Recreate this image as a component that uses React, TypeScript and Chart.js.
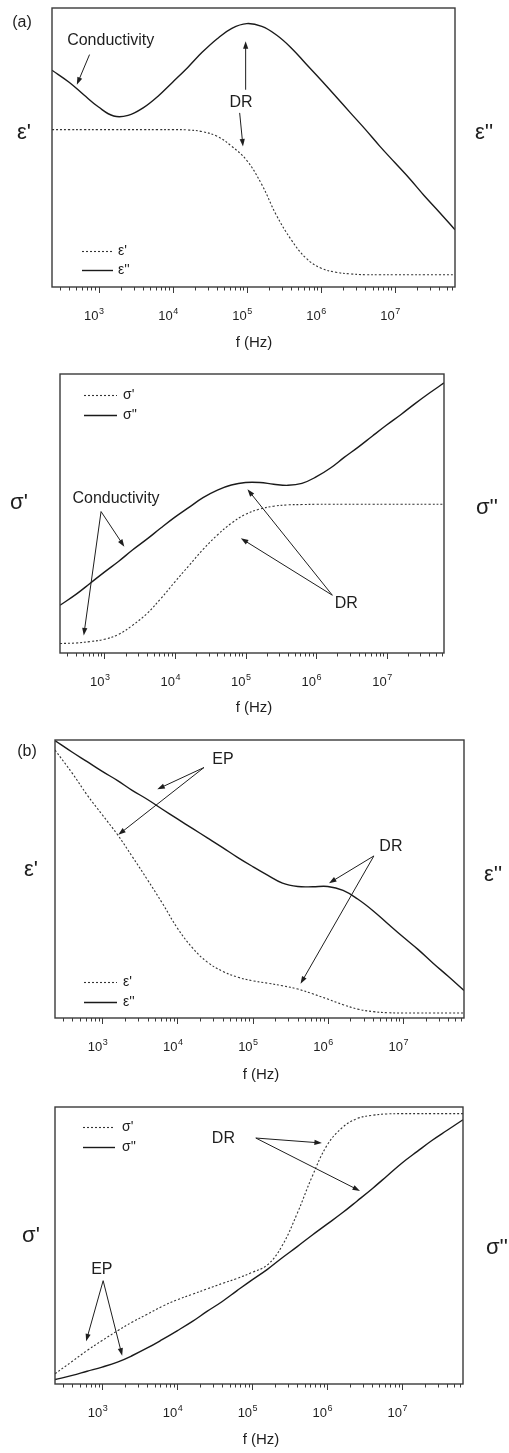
import React, { useEffect, useRef } from 'react';
import { Chart, registerables } from 'chart.js';

Chart.register(...registerables);

const FONT = '"Liberation Sans", Arial, Helvetica, sans-serif';

// Frequency grid (Hz) shared by all four panels
const freq = [
  235, 400, 630, 1e3, 1.6e3, 2.5e3, 4e3, 6.3e3, 1e4, 1.6e4, 2.5e4, 4e4, 6.3e4, 1e5,
  1.6e5, 2.5e5, 4e5, 6.3e5, 1e6, 1.6e6, 2.5e6, 4e6, 6.3e6, 1e7, 1.6e7, 2.5e7, 4e7, 6.5e7,
];
const F_MIN = 235;
const F_MAX = 6.5e7;

// Decade tick labels: base and exponent
const decadeValues = [1e3, 1e4, 1e5, 1e6, 1e7];
const decadeExponents = ['3', '4', '5', '6', '7'];
const minorMultipliers = [2, 3, 4, 5, 6, 7, 8, 9];
const minorExponents = [2, 3, 4, 5, 6, 7];

// (a) permittivity, relative units (0-100 of the plot height)
const aEpsReal = [
  56.4, 56.4, 56.4, 56.4, 56.4, 56.4, 56.4, 56.4, 56.4, 56.3, 55.7, 54.0, 50.4, 45.4,
  36.7, 25.9, 16.9, 10.4, 6.8, 5.3, 4.7, 4.4, 4.4, 4.4, 4.4, 4.4, 4.4, 4.4,
];
const aEpsImag = [
  77.7, 73.4, 68.9, 64.5, 61.3, 61.5, 64.2, 68.3, 73.4, 78.7, 84.1, 89.0, 92.7, 94.4,
  93.4, 90.4, 85.7, 80.0, 74.3, 68.3, 62.5, 56.5, 50.4, 44.6, 38.7, 32.7, 26.8, 20.5,
];

// (a) conductivity
const aSigReal = [
  3.4, 3.6, 4.1, 4.9, 6.7, 9.9, 14.1, 19.5, 25.5, 31.5, 37.1, 42.3, 46.5, 49.7,
  51.6, 52.6, 53.1, 53.2, 53.3, 53.3, 53.3, 53.3, 53.3, 53.3, 53.3, 53.3, 53.3, 53.3,
];
const aSigImag = [
  17.1, 21.1, 25.0, 29.0, 32.9, 36.9, 40.8, 44.8, 48.7, 52.3, 55.7, 58.4, 60.2, 61.1,
  61.1, 60.5, 60.1, 60.8, 63.1, 66.3, 70.1, 73.9, 77.8, 81.7, 85.5, 89.3, 93.1, 96.8,
];

// (b) permittivity
const bEpsReal = [
  96.4, 88.0, 80.2, 73.1, 65.9, 58.1, 49.7, 41.3, 32.3, 25.1, 20.1, 16.8, 14.7, 13.4,
  12.5, 11.6, 10.4, 8.7, 6.8, 4.8, 3.2, 2.3, 1.9, 1.8, 1.8, 1.8, 1.8, 1.8,
];
const bEpsImag = [
  99.8, 95.6, 92.2, 88.7, 85.4, 81.9, 78.6, 75.1, 71.6, 68.1, 64.8, 61.3, 57.8, 54.5,
  51.3, 48.5, 47.3, 47.2, 47.3, 45.9, 42.8, 38.6, 33.9, 29.2, 24.6, 19.8, 15.0, 9.9,
];

// (b) conductivity
const bSigReal = [
  3.7, 8.2, 12.1, 15.7, 19.2, 22.3, 25.2, 28.0, 30.4, 32.4, 34.3, 36.3, 38.1, 40.3,
  43.0, 49.8, 61.6, 74.8, 86.2, 92.6, 95.8, 97.0, 97.5, 97.6, 97.6, 97.6, 97.6, 97.6,
];
const bSigImag = [
  1.6, 3.1, 4.6, 6.1, 7.9, 10.2, 13.0, 16.0, 19.2, 22.6, 26.2, 29.8, 33.7, 37.6,
  41.4, 45.5, 49.6, 53.7, 57.7, 61.8, 66.0, 70.5, 75.1, 79.8, 84.0, 87.9, 91.6, 95.4,
];

type Note = { text: string; f: number; v: number };
type Arrow = { from: [number, number]; to: [number, number] };
type Pt = { x: number; y: number };

interface PanelSpec {
  top: number;
  height: number;
  pad: { left: number; right: number; top: number; bottom: number };
  realLabel: string;
  imagLabel: string;
  realValues: number[];
  imagValues: number[];
  leftTitle: Pt;
  rightTitle: Pt;
  axisTitle: Pt;
  tag?: { text: string; x: number; y: number };
  legend: { fromBottom: boolean; x0: number; x1: number; tx: number; y0: number; y1: number };
  notes: Note[];
  arrows: Arrow[];
}

const panels: PanelSpec[] = [
  {
    top: 0,
    height: 355,
    pad: { left: 52, right: 54, top: 8, bottom: 68 },
    realLabel: "ε'",
    imagLabel: "ε''",
    realValues: aEpsReal,
    imagValues: aEpsImag,
    leftTitle: { x: 24, y: 133 },
    rightTitle: { x: 484, y: 133 },
    axisTitle: { x: 254, y: 343 },
    tag: { text: '(a)', x: 22, y: 23 },
    legend: { fromBottom: true, x0: 30, x1: 61, tx: 66, y0: 36, y1: 17 },
    notes: [
      { text: 'Conductivity', f: 1459, v: 88.4 },
      { text: 'DR', f: 83800, v: 66.0 },
    ],
    arrows: [
      { from: [755, 83.3], to: [509, 72.5] },
      { from: [96800, 70.7], to: [96800, 88.1] },
      { from: [80400, 62.4], to: [89100, 50.4] },
    ],
  },
  {
    top: 355,
    height: 367,
    pad: { left: 60, right: 65, top: 19, bottom: 69 },
    realLabel: "σ'",
    imagLabel: "σ''",
    realValues: aSigReal,
    imagValues: aSigImag,
    leftTitle: { x: 19, y: 148 },
    rightTitle: { x: 487, y: 153 },
    axisTitle: { x: 254, y: 353 },
    legend: { fromBottom: false, x0: 24, x1: 57, tx: 63, y0: 21, y1: 41 },
    notes: [
      { text: 'Conductivity', f: 1462, v: 55.4 },
      { text: 'DR', f: 2687000, v: 17.7 },
    ],
    arrows: [
      { from: [897, 50.7], to: [1919, 38.1] },
      { from: [897, 50.7], to: [510, 6.3] },
      { from: [1702000, 20.7], to: [106600, 58.7] },
      { from: [1702000, 20.7], to: [85900, 41.1] },
    ],
  },
  {
    top: 722,
    height: 366,
    pad: { left: 55, right: 45, top: 18, bottom: 70 },
    realLabel: "ε'",
    imagLabel: "ε''",
    realValues: bEpsReal,
    imagValues: bEpsImag,
    leftTitle: { x: 31, y: 148 },
    rightTitle: { x: 493, y: 153 },
    axisTitle: { x: 261, y: 353 },
    tag: { text: '(b)', x: 27, y: 30 },
    legend: { fromBottom: true, x0: 29, x1: 62, tx: 68, y0: 36, y1: 16 },
    notes: [
      { text: 'EP', f: 40300, v: 92.8 },
      { text: 'DR', f: 6918000, v: 61.7 },
    ],
    arrows: [
      { from: [22550, 90.1], to: [5400, 82.3] },
      { from: [22550, 90.1], to: [1633, 65.9] },
      { from: [4111000, 58.3], to: [1038000, 48.5] },
      { from: [4111000, 58.3], to: [435000, 12.3] },
    ],
  },
  {
    top: 1088,
    height: 365,
    pad: { left: 55, right: 46, top: 19, bottom: 69 },
    realLabel: "σ'",
    imagLabel: "σ''",
    realValues: bSigReal,
    imagValues: bSigImag,
    leftTitle: { x: 31, y: 148 },
    rightTitle: { x: 497, y: 160 },
    axisTitle: { x: 261, y: 352 },
    legend: { fromBottom: false, x0: 28, x1: 60, tx: 67, y0: 20, y1: 40 },
    notes: [
      { text: 'DR', f: 41400, v: 88.6 },
      { text: 'EP', f: 991, v: 41.4 },
    ],
    arrows: [
      { from: [112000, 88.8], to: [853000, 87.0] },
      { from: [112000, 88.8], to: [2750000, 69.7] },
      { from: [1031, 37.3], to: [611, 15.4] },
      { from: [1031, 37.3], to: [1849, 10.2] },
    ],
  },
];

const INK = '#1e1e1e';
const FRAME = '#3a3a3a';

function drawArrow(ctx: CanvasRenderingContext2D, a: Pt, b: Pt) {
  const ang = Math.atan2(b.y - a.y, b.x - a.x);
  const len = 7.5;
  const half = 2.6;
  ctx.beginPath();
  ctx.moveTo(a.x, a.y);
  ctx.lineTo(b.x - Math.cos(ang) * (len - 1), b.y - Math.sin(ang) * (len - 1));
  ctx.stroke();
  ctx.beginPath();
  ctx.moveTo(b.x, b.y);
  ctx.lineTo(
    b.x - Math.cos(ang) * len - Math.sin(ang) * half,
    b.y - Math.sin(ang) * len + Math.cos(ang) * half
  );
  ctx.lineTo(
    b.x - Math.cos(ang) * len + Math.sin(ang) * half,
    b.y - Math.sin(ang) * len - Math.cos(ang) * half
  );
  ctx.closePath();
  ctx.fill();
}

function framePlugin(spec: PanelSpec) {
  return {
    id: 'panelFrame',
    afterDatasetsDraw(chart: Chart) {
      const ctx = chart.ctx;
      const { left, right, top, bottom } = chart.chartArea;
      const xs = chart.scales.x;
      const ys = chart.scales.y;
      const px = (f: number, v: number): Pt => ({
        x: xs.getPixelForValue(f),
        y: ys.getPixelForValue(v),
      });
      ctx.save();

      // plot frame
      ctx.strokeStyle = FRAME;
      ctx.lineWidth = 1.4;
      ctx.strokeRect(left, top, right - left, bottom - top);

      // outward tick marks on the frequency axis
      ctx.lineWidth = 1;
      ctx.strokeStyle = FRAME;
      minorExponents.forEach((e) => {
        minorMultipliers.forEach((m) => {
          const v = m * Math.pow(10, e);
          if (v <= F_MIN || v >= F_MAX) return;
          const x = Math.round(xs.getPixelForValue(v)) + 0.5;
          ctx.beginPath();
          ctx.moveTo(x, bottom);
          ctx.lineTo(x, bottom + 3.5);
          ctx.stroke();
        });
      });
      decadeValues.forEach((v) => {
        const x = Math.round(xs.getPixelForValue(v)) + 0.5;
        ctx.beginPath();
        ctx.moveTo(x, bottom);
        ctx.lineTo(x, bottom + 6);
        ctx.stroke();
      });

      // decade labels 10^n
      ctx.fillStyle = INK;
      ctx.textBaseline = 'alphabetic';
      decadeValues.forEach((v, i) => {
        const x = xs.getPixelForValue(v);
        const base = bottom + 33;
        ctx.font = `13px ${FONT}`;
        ctx.textAlign = 'right';
        ctx.fillText('10', x, base);
        ctx.font = `9px ${FONT}`;
        ctx.textAlign = 'left';
        ctx.fillText(decadeExponents[i], x + 0.5, base - 6);
      });

      // axis titles
      ctx.textAlign = 'center';
      ctx.textBaseline = 'middle';
      ctx.font = `15px ${FONT}`;
      ctx.fillText('f (Hz)', spec.axisTitle.x, spec.axisTitle.y);
      ctx.font = `22px ${FONT}`;
      ctx.fillText(spec.realLabel, spec.leftTitle.x, spec.leftTitle.y);
      ctx.fillText(spec.imagLabel, spec.rightTitle.x, spec.rightTitle.y);
      if (spec.tag) {
        ctx.font = `16px ${FONT}`;
        ctx.fillText(spec.tag.text, spec.tag.x, spec.tag.y);
      }

      // legend, styled from the datasets
      const lg = spec.legend;
      const rows = [lg.y0, lg.y1].map((d) => (lg.fromBottom ? bottom - d : top + d));
      chart.data.datasets.forEach((ds: any, i: number) => {
        const y = Math.round(rows[i]) + 0.5;
        ctx.save();
        ctx.strokeStyle = ds.borderColor;
        ctx.lineWidth = ds.borderWidth;
        ctx.setLineDash(ds.borderDash || []);
        ctx.beginPath();
        ctx.moveTo(left + lg.x0, y);
        ctx.lineTo(left + lg.x1, y);
        ctx.stroke();
        ctx.restore();
        ctx.font = `14px ${FONT}`;
        ctx.textAlign = 'left';
        ctx.textBaseline = 'middle';
        ctx.fillStyle = INK;
        ctx.fillText(ds.label, left + lg.tx, y);
      });

      // annotations
      ctx.font = `16px ${FONT}`;
      ctx.textAlign = 'center';
      ctx.textBaseline = 'middle';
      spec.notes.forEach((n) => {
        const p = px(n.f, n.v);
        ctx.fillText(n.text, p.x, p.y);
      });
      ctx.strokeStyle = INK;
      ctx.fillStyle = INK;
      ctx.lineWidth = 1;
      spec.arrows.forEach((a) => {
        drawArrow(ctx, px(a.from[0], a.from[1]), px(a.to[0], a.to[1]));
      });

      ctx.restore();
    },
  };
}

function Panel({ spec }: { spec: PanelSpec }) {
  const ref = useRef<HTMLCanvasElement>(null);

  useEffect(() => {
    const canvas = ref.current;
    if (!canvas) return;
    const chart = new Chart(canvas, {
      type: 'line',
      data: {
        datasets: [
          {
            label: spec.realLabel,
            data: freq.map((f, i) => ({ x: f, y: spec.realValues[i] })),
            borderColor: '#333333',
            borderWidth: 1.1,
            borderDash: [2, 2],
            pointRadius: 0,
            fill: false,
            tension: 0.4,
          },
          {
            label: spec.imagLabel,
            data: freq.map((f, i) => ({ x: f, y: spec.imagValues[i] })),
            borderColor: '#1a1a1a',
            borderWidth: 1.4,
            pointRadius: 0,
            fill: false,
            tension: 0.4,
          },
        ],
      },
      options: {
        responsive: false,
        animation: false,
        devicePixelRatio: 1,
        events: [],
        layout: { padding: spec.pad },
        scales: {
          x: { type: 'logarithmic', min: F_MIN, max: F_MAX, display: false },
          y: { type: 'linear', min: 0, max: 100, display: false },
        },
        plugins: {
          legend: { display: false },
          tooltip: { enabled: false },
        },
      },
      plugins: [framePlugin(spec)],
    } as any);
    return () => chart.destroy();
  }, [spec]);

  return (
    <canvas
      ref={ref}
      width={509}
      height={spec.height}
      style={{ position: 'absolute', left: 0, top: spec.top, width: 509, height: spec.height }}
    />
  );
}

export default function App() {
  return (
    <div
      style={{
        position: 'absolute',
        left: 0,
        top: 0,
        width: 509,
        height: 1453,
        background: '#ffffff',
        overflow: 'hidden',
      }}
    >
      {panels.map((p, i) => (
        <Panel key={i} spec={p} />
      ))}
    </div>
  );
}
